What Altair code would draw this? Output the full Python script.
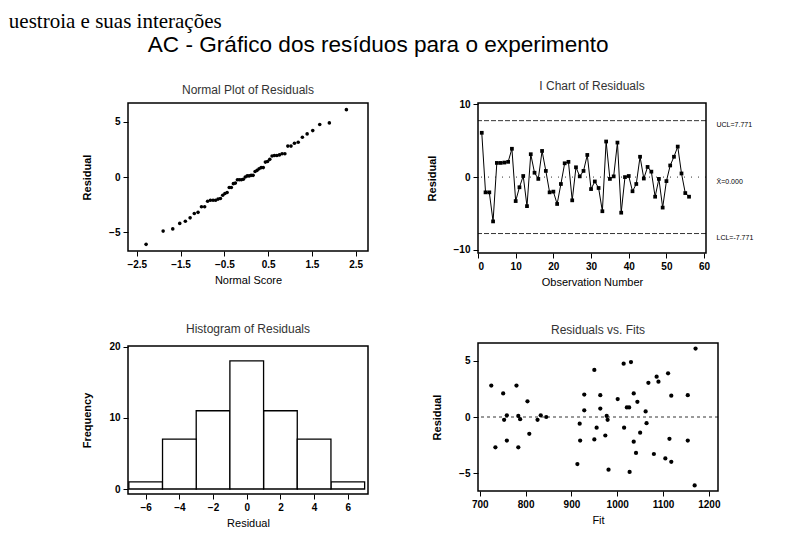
import altair as alt
import pandas as pd

FONT = "Liberation Sans"

# ---------------- data ----------------
obs = list(range(1, 57))
residuals = [6.1, -2.1, -2.1, -6.1, 1.95, 1.95, 2.0, 2.1, 3.9, -3.3,
             -1.4, 0.15, -4.0, 3.15, 0.6, -0.25, 3.6, 0.85, -2.1, -2.0,
             -3.7, -0.95, 1.9, 2.1, -3.2, 1.35, 0.1, 0.85, 3.05, -1.65,
             -0.6, -1.5, -4.7, 4.9, -0.25, 0.1, 4.75, -4.9, 0.0, 0.15,
             -1.95, -0.95, 2.8, -0.2, 1.4, 0.75, -2.7, -0.25, -4.2, -0.55,
             1.6, 2.8, 4.2, 0.5, -2.2, -2.7]
fits = [1171, 919, 759, 1169, 963, 1154, 928, 1036, 1111, 1080,
        1050, 833, 1118, 1090, 928, 826, 1086, 1021, 1154, 950,
        1105, 1015, 1118, 751, 1041, 1044, 977, 1026, 1068, 974,
        918, 808, 981, 1030, 753, 784, 1014, 1027, 845, 759,
        1114, 955, 725, 788, 804, 963, 784, 979, 913, 1064,
        1001, 780, 950, 1062, 1036, 734]

ctrl_values = [7.771, 0.0, -7.771]
ctrl_labels = ["UCL=7.771", "X\u0304=0.000", "LCL=-7.771"]
ctrl_kind = ["limit", "center", "limit"]

normal_ticks = [-2.5, -1.5, -0.5, 0.5, 1.5, 2.5]
resid_ticks = [-5, 0, 5]
ichart_xticks = [0, 10, 20, 30, 40, 50, 60]
ichart_yticks = [-10, 0, 10]
hist_xticks = [-6, -4, -2, 0, 2, 4, 6]
hist_yticks = [0, 10, 20]
fit_ticks = [700, 800, 900, 1000, 1100, 1200]

main_title = "AC - Gráfico dos resíduos para o experimento"
page_fragment = "uestroia e suas interações"

df = pd.DataFrame({"obs": obs, "residual": residuals, "fit": fits})
ctrl_df = pd.DataFrame({"value": ctrl_values, "label": ctrl_labels, "kind": ctrl_kind})
zero_df = pd.DataFrame({"ref": [0.0]})

# ---------------- styles ----------------
def ax(title, values, fmt=None, ytitle=False, **kw):
    d = dict(title=title, values=values, grid=False, domain=False,
             tickColor="black", tickSize=5, tickWidth=1,
             labelFont=FONT, labelFontSize=10, labelFontWeight="bold",
             labelColor="black", labelPadding=3,
             titleFont=FONT, titleFontSize=11, titleColor="black",
             titleFontWeight="bold" if ytitle else "normal",
             titlePadding=16 if ytitle else 5)
    if fmt:
        d["format"] = fmt
    d.update(kw)
    return alt.Axis(**d)


def ptitle(text, offset):
    return alt.Title(text, font=FONT, fontSize=12, fontWeight="normal",
                     color="#333333", offset=offset)

W, H = 240, 148

# ---------------- Normal plot ----------------
normal = alt.Chart(df).transform_window(
    rank="row_number()", sort=[alt.SortField("residual", order="ascending")]
).transform_joinaggregate(n="count()").transform_calculate(
    nscore="quantileNormal((datum.rank - 0.375) / (datum.n + 0.25))"
).mark_circle(size=13, color="black", opacity=1).encode(
    x=alt.X("nscore:Q", scale=alt.Scale(domain=[-2.7, 2.78], nice=False, zero=False),
            axis=ax("Normal Score", normal_ticks, fmt=".1f")),
    y=alt.Y("residual:Q", scale=alt.Scale(domain=[-6.7, 6.7], nice=False, zero=False),
            axis=ax("Residual", resid_ticks, ytitle=True)),
).properties(width=W, height=H, title=ptitle("Normal Plot of Residuals", 6))

# ---------------- I chart ----------------
ix = alt.X("obs:Q", scale=alt.Scale(domain=[0, 60.5], nice=False, zero=False),
           axis=ax("Observation Number", ichart_xticks))
iline = alt.Chart(df).mark_line(
    color="black", strokeWidth=1,
    point=alt.OverlayMarkDef(shape="square", size=14, filled=True, color="black"),
).encode(
    x=ix,
    y=alt.Y("residual:Q", scale=alt.Scale(domain=[-10.45, 10.2], nice=False, zero=False),
            axis=ax("Residual", ichart_yticks, ytitle=True)),
)
label_expr = " : ".join(
    f"datum.value == {v} ? '{l}'" for v, l in zip(ctrl_values[:-1], ctrl_labels[:-1])
) + f" : '{ctrl_labels[-1]}'"
irules = alt.Chart(ctrl_df).mark_rule(color="black", strokeWidth=0.8).encode(
    y=alt.Y("value:Q", scale=alt.Scale(domain=[-10.45, 10.2], nice=False, zero=False),
            axis=alt.Axis(orient="right", values=ctrl_values, labelExpr=label_expr,
                          title=None, ticks=False, domain=False, grid=False,
                          labelFont=FONT, labelFontSize=7, labelColor="black",
                          labelPadding=10, labelOffset=4)),
    strokeDash=alt.StrokeDash("kind:N", legend=None,
                              scale=alt.Scale(domain=["limit", "center"],
                                              range=[[5, 2], [1, 6]])),
)
ichart = alt.layer(iline, irules).resolve_axis(y="independent").properties(
    width=228, height=150, title=ptitle("I Chart of Residuals", 6))

# ---------------- Histogram ----------------
hist = alt.Chart(df).transform_bin(
    ["bin_lo", "bin_hi"], "residual",
    bin=alt.Bin(extent=[-7, 7], step=2, anchor=-7, nice=False)
).transform_aggregate(freq="count()", groupby=["bin_lo", "bin_hi"]).mark_bar(
    fill="white", stroke="black", strokeWidth=1.3
).encode(
    x=alt.X("bin_lo:Q", scale=alt.Scale(domain=[-7.05, 7.2], nice=False, zero=False),
            axis=ax("Residual", hist_xticks)),
    x2="bin_hi:Q",
    y=alt.Y("freq:Q", scale=alt.Scale(domain=[-0.7, 20.1], nice=False, zero=False),
            axis=ax("Frequency", hist_yticks, ytitle=True)),
    y2=alt.datum(0),
).properties(width=W, height=H, title=ptitle("Histogram of Residuals", 6))

# ---------------- Residuals vs Fits ----------------
fpts = alt.Chart(df).mark_circle(size=18, color="black", opacity=1).encode(
    x=alt.X("fit:Q", scale=alt.Scale(domain=[696, 1220], nice=False, zero=False),
            axis=ax("Fit", fit_ticks, fmt="d")),
    y=alt.Y("residual:Q", scale=alt.Scale(domain=[-6.6, 6.6], nice=False, zero=False),
            axis=ax("Residual", resid_ticks, ytitle=True)),
)
fzero = alt.Chart(zero_df).mark_rule(color="black", strokeWidth=0.8, strokeDash=[3, 3]).encode(
    y=alt.Y("ref:Q"))
fitsplot = alt.layer(fzero, fpts).properties(
    width=W, height=H, title=ptitle("Residuals vs. Fits", 6))

col1 = alt.vconcat(normal, hist, spacing=35)
col2 = alt.vconcat(ichart, fitsplot, spacing=35)
body = alt.hconcat(col1, col2, spacing=56,
                   title=alt.Title(main_title, font=FONT, fontSize=22.6, fontWeight="normal",
                                   color="black", anchor="middle", dx=-39, offset=23))
chart = alt.vconcat(body, title=alt.Title(page_fragment, font="Liberation Serif", fontSize=21,
                                          fontWeight="normal", color="black", anchor="start",
                                          dx=-72, offset=2)).properties(
    padding={"left": 0, "top": 3, "right": 5, "bottom": 5},
    background="white",
).configure_view(stroke="black", strokeWidth=1.5).configure_concat(spacing=30)

chart.save("out.html", embed_options={"renderer": "svg", "actions": False})
